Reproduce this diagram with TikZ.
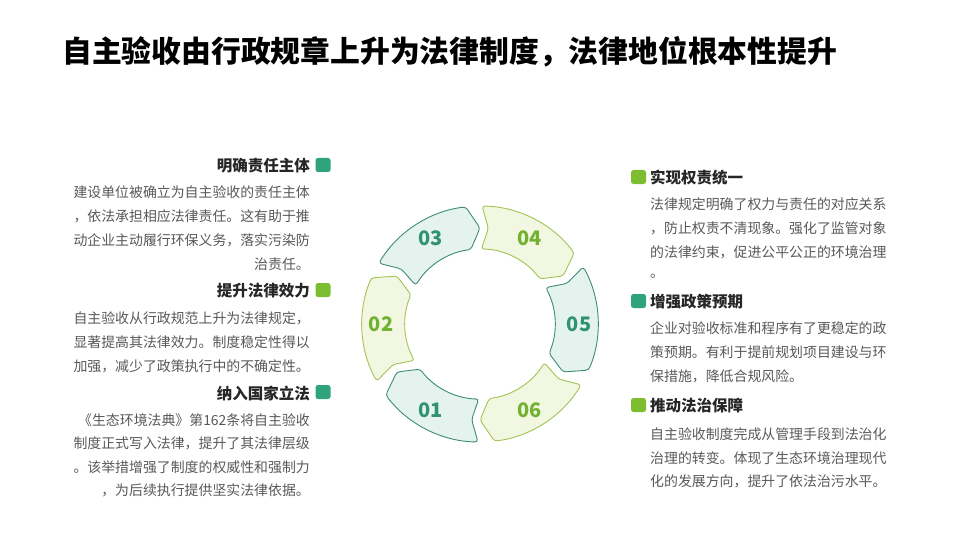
\documentclass[tikz,border=0pt]{standalone}
\usepackage{fontspec}
\setmainfont{Noto Sans CJK SC}
\definecolor{tealsq}{RGB}{47,163,122}
\definecolor{greensq}{RGB}{124,190,48}
\definecolor{txtgray}{RGB}{89,89,89}
\definecolor{headc}{RGB}{38,38,38}
\definecolor{tealfill}{RGB}{229,243,238}
\definecolor{tealline}{RGB}{62,140,118}
\definecolor{greenfill}{RGB}{241,247,224}
\definecolor{greenline}{RGB}{165,195,85}
\definecolor{teallab}{RGB}{48,145,115}
\definecolor{greenlab}{RGB}{115,178,48}
\tikzset{
  body/.style={font=\fontsize{13.9}{16}\selectfont, text=txtgray, inner sep=0pt},
  head/.style={font=\fontsize{15.5}{18}\selectfont\bfseries, text=headc, inner sep=0pt},
  sqbox/.style={rounded corners=2.5pt, minimum width=15pt, minimum height=14pt, inner sep=0pt},
  sqt/.style={sqbox, fill=tealsq},
  sqg/.style={sqbox, fill=greensq},
  segt/.style={draw=tealline, fill=tealfill, line width=0.9pt, rounded corners=3pt, line join=round},
  segg/.style={draw=greenline, fill=greenfill, line width=0.9pt, rounded corners=3pt, line join=round},
  labt/.style={text=teallab, font=\fontsize{20}{22}\selectfont\bfseries, inner sep=0pt},
  labg/.style={text=greenlab, font=\fontsize{20}{22}\selectfont\bfseries, inner sep=0pt},
}
\begin{document}
\begin{tikzpicture}[x=1pt, y=-1pt]
\useasboundingbox (0,0) rectangle (960,540);
\fill[white] (0,0) rectangle (960,540);
% title
\node[anchor=west, inner sep=0pt, font=\fontsize{29.8}{32}\selectfont\bfseries, text=black] (title) at (62,52) {自主验收由行政规章上升为法律制度，法律地位根本性提升};
% ring
\begin{scope}[shift={(480,324)}, x=1pt, y=1pt]
\foreach \c/\lab/\k in {243/01/t, 183/02/g, 123/03/t, 63/04/g, 3/05/t, -57/06/g}{
  \draw[seg\k] ({\c+26}:118) arc[start angle={\c+26}, end angle={\c-26}, radius=118]
     -- ({\c-33}:96) -- ({\c-26}:75) arc[start angle={\c-26}, end angle={\c+26}, radius=75]
     -- ({\c+22}:96) -- cycle;
  \node[lab\k] (n\lab) at ({\c-3}:99) {\lab};
}
\end{scope}
% left blocks
\node[head, anchor=east] (h1) at (310,166) {明确责任主体};
\node[sqt] (s1) at (323,165) {};
\node[body, anchor=east] (l1a) at (310,192) {建设单位被确立为自主验收的责任主体};
\node[body, anchor=east] (l1b) at (310,216) {，依法承担相应法律责任。这有助于推};
\node[body, anchor=east] (l1c) at (310,240) {动企业主动履行环保义务，落实污染防};
\node[body, anchor=east] (l1d) at (310,264) {治责任。};

\node[head, anchor=east] (h2) at (310,291) {提升法律效力};
\node[sqg] (s2) at (323,290) {};
\node[body, anchor=east] (l2a) at (310,318) {自主验收从行政规范上升为法律规定，};
\node[body, anchor=east] (l2b) at (310,342) {显著提高其法律效力。制度稳定性得以};
\node[body, anchor=east] (l2c) at (310,366) {加强，减少了政策执行中的不确定性。};

\node[head, anchor=east] (h3) at (310,393) {纳入国家立法};
\node[sqt] (s3) at (323,392) {};
\node[body, anchor=east] (l3a) at (310,420) {《生态环境法典》第162条将自主验收};
\node[body, anchor=east] (l3b) at (310,443) {制度正式写入法律，提升了其法律层级};
\node[body, anchor=east] (l3c) at (310,467) {。该举措增强了制度的权威性和强制力};
\node[body, anchor=east] (l3d) at (310,490) {，为后续执行提供坚实法律依据。};
% right blocks
\node[sqg] (s4) at (638.5,177) {};
\node[head, anchor=west] (h4) at (650,178) {实现权责统一};
\node[body, anchor=west] (r4a) at (650,204) {法律规定明确了权力与责任的对应关系};
\node[body, anchor=west] (r4b) at (650,228) {，防止权责不清现象。强化了监管对象};
\node[body, anchor=west] (r4c) at (650,252) {的法律约束，促进公平公正的环境治理};
\node[body, anchor=west] (r4d) at (650,276) {。};

\node[sqt] (s5) at (638.5,301) {};
\node[head, anchor=west] (h5) at (650,302) {增强政策预期};
\node[body, anchor=west] (r5a) at (650,328) {企业对验收标准和程序有了更稳定的政};
\node[body, anchor=west] (r5b) at (650,352) {策预期。有利于提前规划项目建设与环};
\node[body, anchor=west] (r5c) at (650,376) {保措施，降低合规风险。};

\node[sqg] (s6) at (638.5,405) {};
\node[head, anchor=west] (h6) at (650,406) {推动法治保障};
\node[body, anchor=west] (r6a) at (650,434) {自主验收制度完成从管理手段到法治化};
\node[body, anchor=west] (r6b) at (650,458) {治理的转变。体现了生态环境治理现代};
\node[body, anchor=west] (r6c) at (650,481) {化的发展方向，提升了依法治污水平。};
\end{tikzpicture}
\end{document}
